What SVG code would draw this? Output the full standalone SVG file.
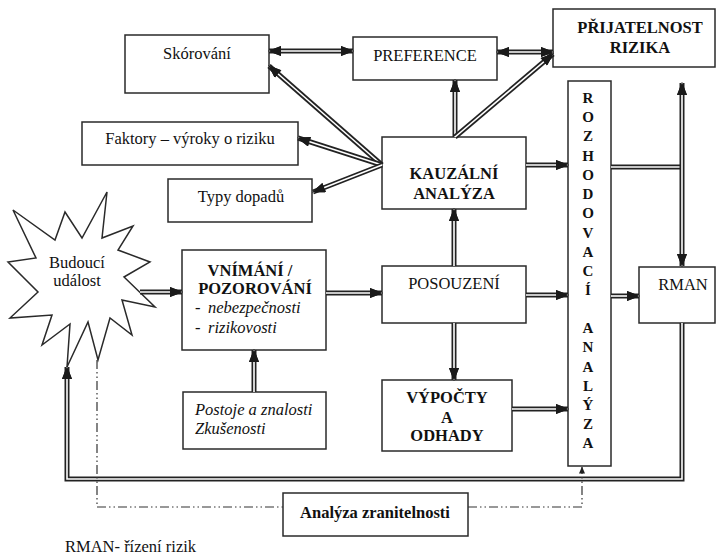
<svg xmlns="http://www.w3.org/2000/svg" width="718" height="558" viewBox="0 0 718 558">
  <style>
    .box { fill: #fff; stroke: #2a2a2a; stroke-width: 1.5; }
    text { font-family: "Liberation Serif", "Tinos", "Times New Roman", "DejaVu Serif", serif; fill: #111; font-size: 16.5px; }
    .c { text-anchor: middle; }
    .b { font-weight: bold; }
    .i { font-style: italic; }
    .v { font-weight: bold; font-size: 15px; text-anchor: middle; }
    .o { fill: none; stroke: #222; stroke-width: 5; stroke-linejoin: miter; }
    .w { fill: none; stroke: #fff; stroke-width: 1.6; stroke-linejoin: miter; }
    .ah { marker-end: url(#ah); }
    .ah2 { marker-start: url(#ah); marker-end: url(#ah); }
    .dd { fill: none; stroke: #333; stroke-width: 1.2; stroke-dasharray: 9 3 1.5 3 1.5 3; }
  </style>
  <defs>
    <marker id="ah" markerUnits="userSpaceOnUse" markerWidth="14" markerHeight="10" viewBox="0 0 13 10" refX="12" refY="5" orient="auto-start-reverse">
      <path d="M0,0 L13,5 L0,10 z" fill="#1a1a1a"/>
    </marker>
    <marker id="sah" markerUnits="userSpaceOnUse" markerWidth="7" markerHeight="6" viewBox="0 0 7 6" refX="6.5" refY="3" orient="auto">
      <path d="M0,0 L7,3 L0,6 z" fill="#222"/>
    </marker>
  </defs>

  <rect width="718" height="558" fill="#fff"/>

  <!-- nodes -->
  <g id="budouci-udalost">
    <polygon class="box" points="107,192 102,238 133,226 118,250 150,262 124,277 155,307 122,300 132,335 110,318 98,360 88,322 67,367 70,324 42,345 52,315 10,318 38,292 8,262 36,258 13,210 55,240 65,212 82,238"/>
    <text class="c" x="77" y="268">Budoucí</text>
    <text class="c" x="77" y="286">událost</text>
  </g>

  <g id="skorovani">
    <rect class="box" x="125" y="35" width="144" height="58"/>
    <text class="c" x="197" y="59">Skórování</text>
  </g>

  <g id="preference">
    <rect class="box" x="353" y="37" width="144" height="43"/>
    <text class="c" x="425" y="61">PREFERENCE</text>
  </g>

  <g id="prijatelnost-rizika">
    <rect class="box" x="553" y="9" width="162" height="58"/>
    <text class="c b" x="640" y="33">PŘIJATELNOST</text>
    <text class="c b" x="640" y="53">RIZIKA</text>
  </g>

  <g id="faktory">
    <rect class="box" x="82" y="122" width="216" height="43"/>
    <text class="c" x="190" y="144">Faktory – výroky o riziku</text>
  </g>

  <g id="typy-dopadu">
    <rect class="box" x="168" y="179" width="144" height="43"/>
    <text class="c" x="241" y="202">Typy dopadů</text>
  </g>

  <g id="kauzalni-analyza">
    <rect class="box" x="382" y="137" width="144" height="72"/>
    <text class="c b" x="454" y="179">KAUZÁLNÍ</text>
    <text class="c b" x="454" y="199">ANALÝZA</text>
  </g>

  <g id="vnimani-pozorovani">
    <rect class="box" x="182" y="250" width="144" height="100"/>
    <text class="c b" x="250" y="276" font-size="16">VNÍMÁNÍ /</text>
    <text class="c b" x="255" y="294" font-size="16">POZOROVÁNÍ</text>
    <text x="195" y="313">-</text>
    <text class="i" x="208" y="313">nebezpečnosti</text>
    <text x="195" y="333">-</text>
    <text class="i" x="208" y="333">rizikovosti</text>
  </g>

  <g id="posouzeni">
    <rect class="box" x="382" y="266" width="144" height="57"/>
    <text class="c" x="454" y="289">POSOUZENÍ</text>
  </g>

  <g id="postoje">
    <rect class="box" x="183" y="392" width="143" height="57"/>
    <text class="i" x="195" y="415">Postoje a znalosti</text>
    <text class="i" x="195" y="434">Zkušenosti</text>
  </g>

  <g id="vypocty-odhady">
    <rect class="box" x="382" y="380" width="130" height="71"/>
    <text class="c b" x="447" y="403">VÝPOČTY</text>
    <text class="c b" x="447" y="423">A</text>
    <text class="c b" x="447" y="441">ODHADY</text>
  </g>

  <g id="rozhodovaci-analyza">
    <rect class="box" x="568" y="81" width="43" height="385"/>
    <text class="v" x="588" y="103">R</text>
    <text class="v" x="588" y="122">O</text>
    <text class="v" x="588" y="141">Z</text>
    <text class="v" x="588" y="161">H</text>
    <text class="v" x="588" y="180">O</text>
    <text class="v" x="588" y="199">D</text>
    <text class="v" x="588" y="218">O</text>
    <text class="v" x="588" y="238">V</text>
    <text class="v" x="588" y="257">A</text>
    <text class="v" x="588" y="276">C</text>
    <text class="v" x="588" y="295">Í</text>
    <text class="v" x="588" y="333">A</text>
    <text class="v" x="588" y="352">N</text>
    <text class="v" x="588" y="372">A</text>
    <text class="v" x="588" y="391">L</text>
    <text class="v" x="588" y="410">Ý</text>
    <text class="v" x="588" y="429">Z</text>
    <text class="v" x="588" y="448">A</text>
  </g>

  <g id="rman">
    <rect class="box" x="639" y="267" width="76" height="56"/>
    <text class="c" x="683" y="290">RMAN</text>
  </g>

  <g id="analyza-zranitelnosti">
    <rect class="box" x="283" y="493" width="185" height="43"/>
    <text class="c b" x="375" y="518">Analýza zranitelnosti</text>
  </g>

  <!-- connectors: double lines with solid heads -->
  <g id="connectors">
    <path class="o ah2" d="M269,51 H353"/>
    <path class="w ah2" d="M269,51 H353"/>

    <path class="o ah2" d="M497,52 H553"/>
    <path class="w ah2" d="M497,52 H553"/>

    <path class="o ah" d="M382,165 L269,66"/>
    <path class="w ah" d="M382,165 L269,66"/>

    <path class="o ah" d="M382,165 L298,138"/>
    <path class="w ah" d="M382,165 L298,138"/>

    <path class="o ah" d="M382,165 L313,192"/>
    <path class="w ah" d="M382,165 L313,192"/>

    <path class="o ah" d="M455,137 V80"/>
    <path class="w ah" d="M455,137 V80"/>

    <path class="o ah" d="M455,137 L553,54"/>
    <path class="w ah" d="M455,137 L553,54"/>

    <path class="o ah" d="M526,165 H568"/>
    <path class="w ah" d="M526,165 H568"/>

    <path class="o ah" d="M454,266 V209"/>
    <path class="w ah" d="M454,266 V209"/>

    <path class="o ah" d="M454,323 V380"/>
    <path class="w ah" d="M454,323 V380"/>

    <path class="o ah" d="M140,292 H182"/>
    <path class="w ah" d="M140,292 H182"/>

    <path class="o ah" d="M326,293 H382"/>
    <path class="w ah" d="M326,293 H382"/>

    <path class="o ah" d="M254,392 V350"/>
    <path class="w ah" d="M254,392 V350"/>

    <path class="o ah" d="M526,295 H568"/>
    <path class="w ah" d="M526,295 H568"/>

    <path class="o ah" d="M512,409 H568"/>
    <path class="w ah" d="M512,409 H568"/>

    <path class="o ah" d="M611,296 H639"/>
    <path class="w ah" d="M611,296 H639"/>

    <path class="o" d="M611,167 H682"/>
    <path class="w" d="M611,167 H680"/>

    <path class="o ah2" d="M682,83 V266"/>
    <path class="w ah2" d="M682,83 V266"/>

    <path class="o ah" d="M682,323 V479 H67 V367"/>
    <path class="w ah" d="M682,323 V479 H67 V367"/>

    <!-- dash-dot link through the vulnerability analysis -->
    <path class="dd" d="M97,360 V507 H283"/>
    <path class="dd" d="M468,507 H582 V467" marker-end="url(#sah)"/>
  </g>

  <text x="65" y="552" font-size="15.5">RMAN- řízení rizik</text>
</svg>
